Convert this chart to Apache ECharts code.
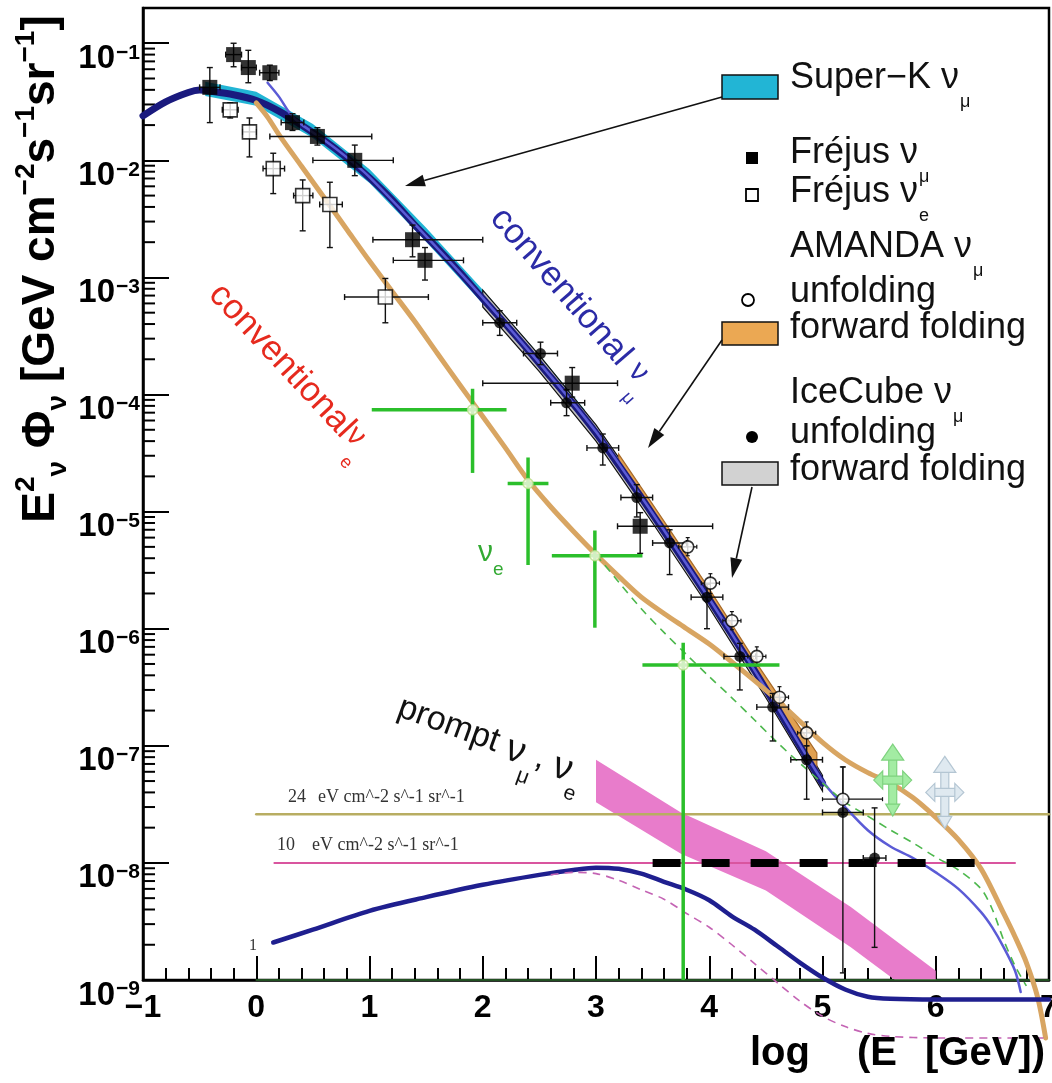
<!DOCTYPE html>
<html>
<head>
<meta charset="utf-8">
<title>Atmospheric neutrino spectra</title>
<script src="https://cdn.jsdelivr.net/npm/echarts@6.0.0/dist/echarts.min.js"></script>
<style>
  html, body { margin: 0; padding: 0; background: #ffffff; }
  #chart { width: 1052px; height: 1083px; }
</style>
</head>
<body>
<div id="chart"></div>
<script>
// Atmospheric neutrino spectra.
// x = log10(E / GeV), y = E^2 * Phi in GeV cm^-2 s^-1 sr^-1 (log axis)

// ---- model curves: [log10 E, E^2 Phi] ----
const convNuMu = [[-1.0,2.40e-2],[-0.8,3.16e-2],[-0.6,3.80e-2],[-0.5,3.98e-2],[-0.4,3.89e-2],[-0.2,3.63e-2],[0.0,3.24e-2],[0.2,2.63e-2],[0.4,2.00e-2],[0.6,1.48e-2],[0.8,1.05e-2],[1.0,7.1e-3],[1.2,4.6e-3],[1.4,2.8e-3],[1.6,1.78e-3],[1.8,1.10e-3],[2.0,6.6e-4],[2.2,4.0e-4],[2.4,2.4e-4],[2.6,1.41e-4],[2.8,8.3e-5],[3.0,4.7e-5],[3.2,2.5e-5],[3.4,1.32e-5],[3.6,6.8e-6],[3.8,3.5e-6],[4.0,1.78e-6],[4.2,8.9e-7],[4.4,4.4e-7],[4.6,2.1e-7],[4.8,1.0e-7],[5.0,4.8e-8]];
const totalNuMu = [[0.1,4.6e-2],[0.2,3.5e-2],[0.3,2.5e-2],[0.4,2.02e-2],[0.6,1.49e-2],[0.8,1.06e-2],[1.0,7.2e-3],[1.4,2.85e-3],[2.0,6.7e-4],[2.6,1.43e-4],[3.0,4.8e-5],[3.4,1.34e-5],[3.8,3.55e-6],[4.2,9.0e-7],[4.6,2.15e-7],[5.0,5.0e-8],[5.2,3.0e-8],[5.4,1.9e-8],[5.6,1.38e-8],[5.8,1.10e-8],[6.0,8.3e-9],[6.2,6.0e-9],[6.4,3.8e-9],[6.5,2.8e-9],[6.6,1.9e-9],[6.7,1.2e-9],[6.75,7.9e-10]];
const totalNuE = [[0.0,3.09e-2],[0.1,2.34e-2],[0.2,1.66e-2],[0.4,8.9e-3],[0.6,4.8e-3],[0.8,2.57e-3],[1.0,1.38e-3],[1.2,7.6e-4],[1.4,4.2e-4],[1.6,2.24e-4],[1.8,1.20e-4],[2.0,6.5e-5],[2.2,3.5e-5],[2.4,1.86e-5],[2.6,1.10e-5],[2.8,6.8e-6],[3.0,4.3e-6],[3.2,2.8e-6],[3.4,1.86e-6],[3.6,1.35e-6],[3.8,1.0e-6],[4.0,7.4e-7],[4.2,5.2e-7],[4.4,3.6e-7],[4.6,2.45e-7],[4.8,1.62e-7],[5.0,1.07e-7],[5.2,7.6e-8],[5.4,5.9e-8],[5.6,4.8e-8],[5.8,3.6e-8],[6.0,2.45e-8],[6.2,1.58e-8],[6.4,8.9e-9],[6.6,3.7e-9],[6.7,2.34e-9],[6.8,1.41e-9],[6.9,7.1e-10],[6.97,3.2e-10]];
const convNuE = [[3.0,4.3e-6],[3.2,2.51e-6],[3.4,1.48e-6],[3.6,9.3e-7],[3.8,6.0e-7],[4.0,3.9e-7],[4.2,2.57e-7],[4.4,1.66e-7],[4.6,1.07e-7],[4.8,7.1e-8],[5.0,4.8e-8],[5.2,3.3e-8],[5.4,2.51e-8],[5.6,1.91e-8],[5.8,1.48e-8],[6.0,1.12e-8],[6.2,8.7e-9],[6.4,6.0e-9],[6.5,4.0e-9],[6.6,2.19e-9],[6.7,1.32e-9],[6.8,8.9e-10]];
const promptNuMu = [[0.15,2.09e-9],[0.5,2.69e-9],[1.0,3.9e-9],[1.5,5.1e-9],[2.0,6.5e-9],[2.5,7.9e-9],[2.8,8.7e-9],[3.0,9.1e-9],[3.2,8.9e-9],[3.4,8.1e-9],[3.6,6.9e-9],[3.8,5.9e-9],[4.0,4.8e-9],[4.2,3.5e-9],[4.4,2.69e-9],[4.6,1.95e-9],[4.8,1.41e-9],[5.0,1.05e-9],[5.2,8.3e-10],[5.4,7.2e-10],[5.6,6.9e-10],[6.0,6.8e-10],[6.5,6.8e-10],[7.0,6.8e-10]];
const promptNuE = [[2.6,7.9e-9],[2.8,8.3e-9],[3.0,8.1e-9],[3.2,7.1e-9],[3.4,5.9e-9],[3.6,4.9e-9],[3.8,3.7e-9],[4.0,2.82e-9],[4.2,2.0e-9],[4.4,1.38e-9],[4.6,9.5e-10],[4.8,6.6e-10],[5.0,4.9e-10],[5.2,4.0e-10],[5.4,3.5e-10],[5.6,3.3e-10],[6.0,3.2e-10],[7.0,3.2e-10]];

// ---- bands: [log10 E, lower, upper] ----
const superKBand = [[-0.45,3.55e-2,4.68e-2],[0.0,2.92e-2,3.85e-2],[0.5,1.55e-2,2.04e-2],[1.0,6.4e-3,8.4e-3],[1.5,2.02e-3,2.66e-3],[2.0,5.96e-4,7.85e-4],[2.5,1.66e-4,2.19e-4],[2.9,5.6e-5,7.4e-5]];
const iceCubeFFBand = [[2.0,5.6e-4,7.8e-4],[2.5,1.57e-4,2.16e-4],[3.0,4.0e-5,5.5e-5],[3.5,8.0e-6,1.11e-5],[4.0,1.51e-6,2.09e-6],[4.5,2.57e-7,3.55e-7],[5.0,4.1e-8,5.6e-8]];
const amandaFFBand = [[3.2,2.69e-5,3.1e-5],[3.6,7.2e-6,8.3e-6],[4.0,1.91e-6,2.19e-6],[4.4,4.7e-7,5.4e-7],[4.7,1.45e-7,2.0e-7],[4.95,5.5e-8,8.7e-8]];
const promptBand = [[3.0,3.3e-8,7.6e-8],[3.75,1.2e-8,2.7e-8],[4.5,5.8e-9,1.26e-8],[5.25,1.9e-9,4.2e-9],[6.0,5.5e-10,1.2e-9]];

// ---- measurements: [log10 E, value, xLow, xHigh, yLow, yHigh] ----
const frejusNuMu = [[-0.41,4.2e-2,-0.5,-0.32,2.1e-2,6.2e-2],[-0.20,8.0e-2,-0.27,-0.13,6.3e-2,1.0e-1],[-0.07,6.2e-2,-0.13,0.0,4.6e-2,8.7e-2],[0.12,5.6e-2,0.03,0.2,4.8e-2,6.5e-2],[0.32,2.1e-2,0.22,0.42,1.8e-2,2.5e-2],[0.54,1.6e-2,0.12,1.02,1.35e-2,1.9e-2],[0.87,1.0e-2,0.50,1.21,7.4e-3,1.35e-2],[1.38,2.1e-3,1.03,2.0,1.5e-3,2.8e-3],[1.49,1.4e-3,1.21,1.83,9.5e-4,1.8e-3],[2.79,1.25e-4,2.0,3.19,9.5e-5,1.7e-4],[3.39,7.5e-6,3.19,4.03,4.4e-6,9.8e-6]];
const frejusNuE = [[-0.23,2.7e-2,-0.3,-0.16,2.3e-2,3.1e-2],[-0.06,1.75e-2,-0.12,0.0,1.07e-2,2.3e-2],[0.15,8.5e-3,0.06,0.25,5.2e-3,1.15e-2],[0.41,5.0e-3,0.33,0.5,2.5e-3,6.8e-3],[0.65,4.2e-3,0.56,0.76,1.8e-3,6.5e-3],[1.14,6.8e-4,0.78,1.52,4.1e-4,9.8e-4]];
const iceCubeUnfold = [[2.15,4.1e-4,2.0,2.3,3.2e-4,5.2e-4],[2.51,2.24e-4,2.36,2.66,1.8e-4,2.8e-4],[2.74,8.5e-5,2.6,2.9,6.6e-5,1.1e-4],[3.06,3.5e-5,2.92,3.2,2.5e-5,4.6e-5],[3.36,1.32e-5,3.22,3.5,9.0e-6,1.7e-5],[3.65,5.4e-6,3.5,3.8,2.9e-6,7.0e-6],[3.98,1.86e-6,3.84,4.12,1.0e-6,2.4e-6],[4.27,5.8e-7,4.13,4.41,3.0e-7,7.5e-7],[4.56,2.14e-7,4.42,4.7,1.1e-7,2.8e-7],[4.86,7.6e-8,4.72,5.0,3.5e-8,1.0e-7],[5.18,2.7e-8,5.0,5.36,1.15e-9,6.6e-8],[5.46,1.1e-8,5.36,5.56,1.9e-9,2.95e-8]];
const amandaUnfold = [[3.81,5.0e-6,3.73,3.89,4.2e-6,6.0e-6],[4.01,2.45e-6,3.93,4.09,2.0e-6,2.95e-6],[4.20,1.17e-6,4.12,4.28,9.8e-7,1.4e-6],[4.42,5.8e-7,4.34,4.5,4.8e-7,7.0e-7],[4.62,2.6e-7,4.54,4.7,2.1e-7,3.2e-7],[4.86,1.29e-7,4.78,4.94,1.0e-7,1.6e-7],[5.18,3.5e-8,5.0,5.53,2.6e-8,6.6e-8]];
const nuEMeasured = [[1.91,7.4e-5,1.02,2.21,2.14e-5,1.12e-4],[2.40,1.74e-5,2.22,2.58,3.5e-6,2.9e-5],[2.99,4.2e-6,2.61,3.41,1.02e-6,6.9e-6],[3.77,4.9e-7,3.41,4.62,1.0e-9,7.6e-7]];
const upperLimits = [[5.62,5.1e-8],[6.08,4.0e-8]];

// ---- reference levels ----
const level24 = [[0.0,2.6e-8],[7.0,2.6e-8]];
const level10 = [[0.16,1.0e-8],[6.7,1.0e-8]];
const sensitivity = [[3.5,1.0e-8],[6.4,1.0e-8]];
const axisFloor = [[0.0,1.0e-9],[7.0,1.0e-9]];

// y-axis decades that carry a label
const yDecades = [-9,-8,-7,-6,-5,-4,-3,-2,-1];

const FONT = 'Liberation Sans, Arial, Helvetica, sans-serif';
const SERIF = 'Liberation Serif, Times New Roman, serif';

// log-spaced minor ticks on the y axis (2..9 x 10^n)
const yMinorTicks = [];
yDecades.forEach(n => { for (let k = 2; k <= 9; k++) { const v = k * Math.pow(10, n); if (v <= 0.2) yMinorTicks.push([-1, v]); } });

function lineSeries(name, data, color, width, extra) {
  return Object.assign({
    type: 'line', name, data, symbol: 'none', showSymbol: false, smooth: 0.3,
    clip: false, silent: true, z: 3,
    lineStyle: { color, width, cap: 'round', join: 'round' }
  }, extra || {});
}

function bandSeries(name, rows, fill, stroke, z, clip) {
  return {
    type: 'custom', name, silent: true, clip: !!clip, z,
    data: [[rows[0][0], rows[0][2]]], encode: { x: 0, y: 1 },
    renderItem(params, api) {
      const top = rows.map(r => api.coord([r[0], r[2]]));
      const bot = rows.slice().reverse().map(r => api.coord([r[0], r[1]]));
      return { type: 'polygon', shape: { points: top.concat(bot) },
        style: { fill, stroke: stroke || 'none', lineWidth: stroke ? 1.2 : 0 } };
    }
  };
}

function errorBars(name, rows, color, width, cap, z) {
  return {
    type: 'custom', name, silent: true, clip: false, z,
    data: rows, encode: { x: 0, y: 1 },
    renderItem(params, api) {
      const y = api.value(1), x = api.value(0);
      const pL = api.coord([api.value(2), y]), pR = api.coord([api.value(3), y]);
      const pB = api.coord([x, api.value(4)]), pT = api.coord([x, api.value(5)]);
      const st = { stroke: color, lineWidth: width, fill: 'none' };
      const ch = [
        { type: 'line', shape: { x1: pL[0], y1: pL[1], x2: pR[0], y2: pR[1] }, style: st },
        { type: 'line', shape: { x1: pB[0], y1: pB[1], x2: pT[0], y2: pT[1] }, style: st }
      ];
      if (cap) {
        ch.push({ type: 'line', shape: { x1: pL[0], y1: pL[1] - cap, x2: pL[0], y2: pL[1] + cap }, style: st });
        ch.push({ type: 'line', shape: { x1: pR[0], y1: pR[1] - cap, x2: pR[0], y2: pR[1] + cap }, style: st });
        ch.push({ type: 'line', shape: { x1: pT[0] - cap, y1: pT[1], x2: pT[0] + cap, y2: pT[1] }, style: st });
        ch.push({ type: 'line', shape: { x1: pB[0] - cap, y1: pB[1], x2: pB[0] + cap, y2: pB[1] }, style: st });
      }
      return { type: 'group', children: ch };
    }
  };
}

function pts(rows) { return rows.map(r => [r[0], r[1]]); }

// four-way arrow glyph for the upper-limit markers
const limitColors = [['#a3eca3', '#7fd27f'], ['#dfe9f0', '#b4c6d3']];
const limitSeries = {
  type: 'custom', name: 'limits', silent: true, clip: false, z: 7,
  data: upperLimits, encode: { x: 0, y: 1 },
  renderItem(params, api) {
    const c = api.coord([api.value(0), api.value(1)]);
    const [fill, stroke] = limitColors[params.dataIndex];
    const st = { fill, stroke, lineWidth: 1.2 };
    const cx = c[0], cy = c[1];
    return { type: 'group', children: [
      { type: 'rect', shape: { x: cx - 4, y: cy - 22, width: 8, height: 50 }, style: st },
      { type: 'rect', shape: { x: cx - 12, y: cy - 4, width: 24, height: 8 }, style: st },
      { type: 'polygon', shape: { points: [[cx, cy - 36], [cx - 11, cy - 20], [cx + 11, cy - 20]] }, style: st },
      { type: 'polygon', shape: { points: [[cx - 19, cy], [cx - 10, cy - 9], [cx - 10, cy + 9]] }, style: st },
      { type: 'polygon', shape: { points: [[cx + 19, cy], [cx + 10, cy - 9], [cx + 10, cy + 9]] }, style: st },
      { type: 'polygon', shape: { points: [[cx, cy + 36], [cx - 7, cy + 24], [cx + 7, cy + 24]] }, style: st }
    ] };
  }
};

const yMinorTickSeries = {
  type: 'custom', name: 'yMinor', silent: true, clip: false, z: 1,
  data: yMinorTicks, encode: { x: 0, y: 1 },
  renderItem(params, api) {
    const p = api.coord([api.value(0), api.value(1)]);
    return { type: 'line', shape: { x1: p[0], y1: p[1], x2: p[0] + 12, y2: p[1] }, style: { stroke: '#000', lineWidth: 2 } };
  }
};

// ---- annotations ----
function arrow(x1, y1, x2, y2) {
  const dx = x2 - x1, dy = y2 - y1, L = Math.hypot(dx, dy), ux = dx / L, uy = dy / L;
  const hl = 20, hw = 6, bx = x2 - ux * hl, by = y2 - uy * hl;
  return [
    { type: 'line', z: 100, silent: true, shape: { x1, y1, x2: bx, y2: by }, style: { stroke: '#111', lineWidth: 1.6 } },
    { type: 'polygon', z: 100, silent: true, shape: { points: [[x2, y2], [bx - uy * hw, by + ux * hw], [bx + uy * hw, by - ux * hw]] }, style: { fill: '#111' } }
  ];
}

function legendText(x, baseline, main, sub) {
  return { type: 'text', x, y: baseline - 33, z: 100, silent: true,
    style: { text: sub ? '{m|' + main + '}{s|' + sub + '}' : '{m|' + main + '}', align: 'left', verticalAlign: 'top',
      rich: { m: { fontSize: 36, fontFamily: FONT, fill: '#111', lineHeight: 40, verticalAlign: 'top' },
              s: { fontSize: 18, fontFamily: FONT, fill: '#111', lineHeight: 18, verticalAlign: 'top', padding: [33, 0, 0, 1] } } } };
}

function rotatedLabel(x, y, deg, text, color, sizes) {
  return { type: 'text', x, y, rotation: -deg * Math.PI / 180, z: 100, silent: true,
    style: { text, align: 'center', verticalAlign: 'middle',
      rich: {
        a: { fontSize: sizes[0], fontFamily: FONT, fill: color, lineHeight: sizes[0] + 6, verticalAlign: 'top' },
        b: { fontSize: sizes[1], fontFamily: FONT, fill: color, lineHeight: sizes[0] + 6, verticalAlign: 'top' },
        c: { fontSize: sizes[2], fontFamily: FONT, fill: color, lineHeight: sizes[2], verticalAlign: 'top', padding: [sizes[0] - 4, 0, 0, 0] }
      } } };
}

const graphics = [
  // legend swatches
  { type: 'rect', z: 100, silent: true, shape: { x: 722, y: 75, width: 56, height: 24 }, style: { fill: '#22b5d5', stroke: '#111', lineWidth: 1.5 } },
  { type: 'rect', z: 100, silent: true, shape: { x: 746, y: 152, width: 12, height: 12 }, style: { fill: '#000' } },
  { type: 'rect', z: 100, silent: true, shape: { x: 746, y: 189, width: 12, height: 12 }, style: { fill: '#fff', stroke: '#000', lineWidth: 1.8 } },
  { type: 'circle', z: 100, silent: true, shape: { cx: 748, cy: 300, r: 6 }, style: { fill: '#fff', stroke: '#000', lineWidth: 1.8 } },
  { type: 'rect', z: 100, silent: true, shape: { x: 722, y: 322, width: 56, height: 23 }, style: { fill: '#eba853', stroke: '#111', lineWidth: 1.5 } },
  { type: 'circle', z: 100, silent: true, shape: { cx: 752, cy: 437, r: 6 }, style: { fill: '#000' } },
  { type: 'rect', z: 100, silent: true, shape: { x: 722, y: 462, width: 56, height: 23 }, style: { fill: '#d2d2d2', stroke: '#111', lineWidth: 1.5 } },
  legendText(790, 93, 'Super−K ν', 'μ'),
  legendText(790, 168, 'Fréjus ν', 'μ'),
  legendText(790, 207, 'Fréjus ν', 'e'),
  legendText(790, 262, 'AMANDA ν', 'μ'),
  legendText(790, 307, 'unfolding'),
  legendText(790, 343, 'forward folding'),
  legendText(790, 408, 'IceCube ν', 'μ'),
  legendText(790, 448, 'unfolding'),
  legendText(790, 485, 'forward folding'),
  ...arrow(722, 97, 405, 186),
  ...arrow(722, 340, 648, 448),
  ...arrow(752, 487, 732, 578),
  // curve labels
  rotatedLabel(570, 302, 49, '{a|conventional }{b|ν}{c|μ}', '#2b2ba6', [35, 30, 18]),
  rotatedLabel(288, 372, 47, '{a|conventional}{b|ν}{c|e}', '#e62a1e', [35, 30, 18]),
  rotatedLabel(490, 743, 20, '{a|prompt }{b|ν}{c|μ}{a|, }{b|ν}{c|e}', '#111', [34, 38, 21]),
  { type: 'text', x: 478, y: 538, z: 100, silent: true,
    style: { text: '{b|ν}{c|e}', align: 'left', verticalAlign: 'top',
      rich: { b: { fontSize: 30, fontFamily: FONT, fill: '#33aa33', lineHeight: 34, verticalAlign: 'top' },
              c: { fontSize: 19, fontFamily: FONT, fill: '#33aa33', lineHeight: 19, verticalAlign: 'top', padding: [22, 0, 0, 0] } } } },
  // level annotations
  { type: 'text', z: 100, silent: true, x: 288, y: 806, style: { text: '24', fontFamily: SERIF, fontSize: 18, fill: '#333', verticalAlign: 'bottom' } },
  { type: 'text', z: 100, silent: true, x: 318, y: 806, style: { text: 'eV cm^-2 s^-1 sr^-1', fontFamily: SERIF, fontSize: 18, fill: '#333', verticalAlign: 'bottom' } },
  { type: 'text', z: 100, silent: true, x: 277, y: 854, style: { text: '10', fontFamily: SERIF, fontSize: 18, fill: '#333', verticalAlign: 'bottom' } },
  { type: 'text', z: 100, silent: true, x: 312, y: 854, style: { text: 'eV cm^-2 s^-1 sr^-1', fontFamily: SERIF, fontSize: 18, fill: '#333', verticalAlign: 'bottom' } },
  { type: 'text', z: 100, silent: true, x: 249, y: 954, style: { text: '1', fontFamily: SERIF, fontSize: 16, fill: '#333', verticalAlign: 'bottom' } },
  // axis titles
  { type: 'text', z: 100, silent: true, x: 780, y: 1054, style: { text: 'log', fontFamily: FONT, fontWeight: 'bold', fontSize: 40, fill: '#000', align: 'center', verticalAlign: 'middle' } },
  { type: 'text', z: 100, silent: true, x: 877, y: 1054, style: { text: '(E', fontFamily: FONT, fontWeight: 'bold', fontSize: 40, fill: '#000', align: 'center', verticalAlign: 'middle' } },
  { type: 'text', z: 100, silent: true, x: 985, y: 1054, style: { text: '[GeV])', fontFamily: FONT, fontWeight: 'bold', fontSize: 40, fill: '#000', align: 'center', verticalAlign: 'middle' } },
  { type: 'text', z: 100, silent: true, x: 33, y: 269, rotation: Math.PI / 2,
    style: { text: '{m|E}{p|2}{s|ν}{m| Φ}{s|ν}{m| [GeV cm}{p|−2}{m|s}{p|−1}{m|sr}{p|−1}{m|]}', align: 'center', verticalAlign: 'middle',
      rich: {
        m: { fontSize: 46, fontWeight: 'bold', fontFamily: FONT, fill: '#000', lineHeight: 50, verticalAlign: 'top', padding: [10, 0, 0, 0] },
        p: { fontSize: 28, fontWeight: 'bold', fontFamily: FONT, fill: '#000', lineHeight: 28, verticalAlign: 'top', padding: [4, 0, 0, 0] },
        s: { fontSize: 28, fontWeight: 'bold', fontFamily: FONT, fill: '#000', lineHeight: 28, verticalAlign: 'top', padding: [36, 0, 0, 0] }
      } } }
];

const chart = echarts.init(document.getElementById('chart'));
chart.setOption({
  animation: false,
  backgroundColor: '#ffffff',
  grid: { left: 143, right: 3, top: 8, bottom: 103, show: true, borderColor: '#000', borderWidth: 2.5, containLabel: false, outerBoundsMode: 'none' },
  xAxis: {
    type: 'value', min: -1, max: 7, interval: 1,
    axisLine: { onZero: false, lineStyle: { color: '#000', width: 2.5 } },
    axisTick: { inside: true, length: 24, lineStyle: { color: '#000', width: 2 } },
    minorTick: { show: true, splitNumber: 5, length: 12, lineStyle: { color: '#000', width: 2 } },
    splitLine: { show: false },
    axisLabel: { margin: 12, fontSize: 32, fontWeight: 'bold', fontFamily: FONT, color: '#000',
      formatter: v => (v < 0 ? '−' + (-v) : String(v)) }
  },
  yAxis: {
    type: 'log', logBase: 10, min: 1e-9, max: 0.2, splitNumber: 9,
    axisLine: { onZero: false, lineStyle: { color: '#000', width: 2.5 } },
    axisTick: { inside: true, length: 26, lineStyle: { color: '#000', width: 2 } },
    splitLine: { show: false },
    axisLabel: { margin: 3, showMaxLabel: false,
      formatter: v => {
        const e = Math.log10(v), r = Math.round(e);
        if (Math.abs(e - r) > 1e-6) return '';
        return '{b|10}{e|−' + (-r) + '}';
      },
      rich: {
        b: { fontSize: 33, fontWeight: 'bold', fontFamily: FONT, color: '#000', lineHeight: 34, verticalAlign: 'top', padding: [16, 0, 0, 0] },
        e: { fontSize: 21, fontWeight: 'bold', fontFamily: FONT, color: '#000', lineHeight: 21, verticalAlign: 'top', padding: [16, 0, 0, 1] }
      } }
  },
  graphic: graphics,
  series: [
    yMinorTickSeries,
    bandSeries('prompt band', promptBand, '#e87ccb', null, 1, true),
    lineSeries('24 eV level', level24, '#b8ad62', 2.5, { smooth: false, z: 2 }),
    lineSeries('10 eV level', level10, '#d9559f', 2, { smooth: false, z: 2 }),
    lineSeries('axis floor', axisFloor, '#2e6b2e', 1.5, { smooth: false, z: 2 }),
    bandSeries('Super-K', superKBand, '#22b5d5', null, 2),
    bandSeries('IceCube FF', iceCubeFFBand, '#bdbdbd', '#111', 2),
    bandSeries('AMANDA FF', amandaFFBand, '#e0a050', '#a86a28', 2),
    lineSeries('conventional numu', convNuMu, '#1a1a7e', 7),
    lineSeries('numu total', totalNuMu, '#5b5bd6', 2.5),
    lineSeries('nue total', totalNuE, '#d8a562', 5),
    lineSeries('conventional nue', convNuE, '#4db84d', 1.6, { lineStyle: { color: '#4db84d', width: 1.6, type: [8, 6] } }),
    lineSeries('prompt numu', promptNuMu, '#1f1f8f', 4.5),
    lineSeries('prompt nue', promptNuE, '#c464b4', 1.6, { lineStyle: { color: '#c464b4', width: 1.6, type: [8, 6] } }),
    lineSeries('sensitivity', sensitivity, '#000', 8, { smooth: false, z: 4, lineStyle: { color: '#000', width: 8, type: [28, 21], cap: 'butt' } }),
    errorBars('Frejus numu err', frejusNuMu, '#111', 1.4, 3, 5),
    errorBars('Frejus nue err', frejusNuE, '#111', 1.4, 3, 5),
    errorBars('IceCube err', iceCubeUnfold, '#111', 1.4, 3, 5),
    errorBars('AMANDA err', amandaUnfold, '#111', 1.2, 2, 5),
    errorBars('nue err', nuEMeasured, '#2bbf2b', 3.5, 0, 5),
    { type: 'scatter', name: 'Fréjus νμ', data: pts(frejusNuMu), symbol: 'rect', symbolSize: 15, itemStyle: { color: '#000' }, z: 6, silent: true, clip: false },
    { type: 'scatter', name: 'Fréjus νe', data: pts(frejusNuE), symbol: 'rect', symbolSize: 14, itemStyle: { color: '#fff', borderColor: '#000', borderWidth: 1.6 }, z: 6, silent: true, clip: false },
    { type: 'scatter', name: 'AMANDA unfolding', data: pts(amandaUnfold), symbol: 'circle', symbolSize: 12, itemStyle: { color: '#fff', borderColor: '#000', borderWidth: 1.6 }, z: 6, silent: true, clip: false },
    { type: 'scatter', name: 'IceCube unfolding', data: pts(iceCubeUnfold), symbol: 'circle', symbolSize: 11, itemStyle: { color: '#000' }, z: 6, silent: true, clip: false },
    { type: 'scatter', name: 'nue', data: pts(nuEMeasured), symbol: 'circle', symbolSize: 10, itemStyle: { color: '#fbfbe8', borderColor: '#b8e08a', borderWidth: 1.5 }, z: 6, silent: true, clip: false },
    limitSeries
  ]
});
</script>
</body>
</html>
